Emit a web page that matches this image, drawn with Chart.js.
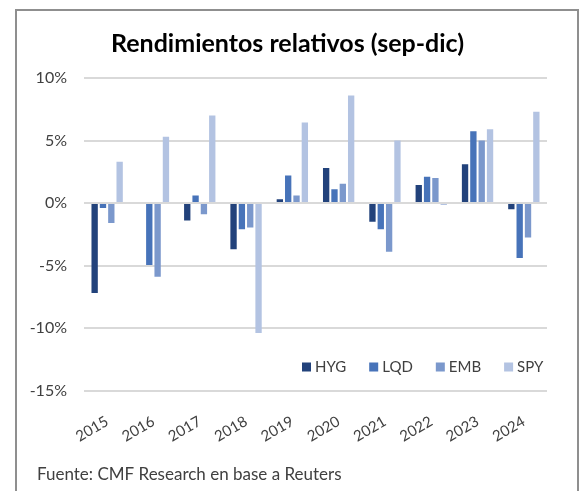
<!DOCTYPE html>
<html><head><meta charset="utf-8">
<script src="https://cdn.jsdelivr.net/npm/chart.js@4.4.1/dist/chart.umd.min.js"></script>
<style>
html,body{margin:0;padding:0;background:#fff;overflow:hidden}
#wrap{position:relative;width:581px;height:491px}
#frame{position:absolute;left:15px;top:9px;width:564px;height:600px;border:2px solid #8f8f8f;box-sizing:border-box;pointer-events:none}
</style></head><body>
<div id="wrap"><canvas id="c" width="581" height="491"></canvas><div id="frame"></div></div>
<script>
const categories = ['2015','2016','2017','2018','2019','2020','2021','2022','2023','2024'];
const seriesNames = ['HYG','LQD','EMB','SPY'];
const hyg = [-7.2, 0, -1.4, -3.7, 0.3, 2.8, -1.5, 1.45, 3.1, -0.5];
const lqd = [-0.4, -4.95, 0.6, -2.1, 2.2, 1.1, -2.1, 2.1, 5.75, -4.4];
const emb = [-1.6, -5.9, -0.9, -1.95, 0.6, 1.55, -3.9, 2.0, 5.0, -2.75];
const spy = [3.3, 5.3, 7.0, -10.4, 6.45, 8.6, 5.0, -0.15, 5.9, 7.3];
const yTicks = [-15, -10, -5, 0, 5, 10];
const colors = ['#22427b', '#4773b9', '#7b98cc', '#b3c3e2'];
const titleText = 'Rendimientos relativos (sep-dic)';
const sourceText = 'Fuente: CMF Research en base a Reuters';

const FONT = 'Lato, "Open Sans", sans-serif';

const insideLegend = {
  id: 'insideLegend',
  afterDraw(chart, args, opts) {
    const ctx = chart.ctx;
    ctx.save();
    ctx.font = opts.fontSize + 'px ' + FONT;
    ctx.textBaseline = 'middle';
    ctx.textAlign = 'left';
    let x = opts.x;
    chart.data.datasets.forEach(ds => {
      ctx.fillStyle = ds.backgroundColor;
      ctx.fillRect(x, opts.y - opts.box / 2, opts.box, opts.box);
      x += opts.box + opts.gap;
      ctx.fillStyle = opts.color;
      ctx.fillText(ds.label, x, opts.y);
      x += ctx.measureText(ds.label).width + opts.spacing;
    });
    ctx.restore();
  }
};

const sourceNote = {
  id: 'sourceNote',
  afterDraw(chart, args, opts) {
    const ctx = chart.ctx;
    ctx.save();
    ctx.font = opts.fontSize + 'px ' + FONT;
    ctx.fillStyle = opts.color;
    ctx.textBaseline = 'middle';
    ctx.textAlign = 'left';
    ctx.fillText(opts.text, opts.x, opts.y);
    ctx.restore();
  }
};

const seriesData = [hyg, lqd, emb, spy];
new Chart(document.getElementById('c'), {
  type: 'bar',
  data: {
    labels: categories,
    datasets: seriesNames.map((n, i) => ({
      label: n,
      data: seriesData[i],
      backgroundColor: colors[i],
      borderWidth: 0,
      categoryPercentage: 0.72,
      barPercentage: 0.76
    }))
  },
  options: {
    responsive: false,
    animation: false,
    devicePixelRatio: 1,
    layout: { padding: { left: 28, right: 34, top: 0, bottom: 35 } },
    plugins: {
      legend: { display: false },
      tooltip: { enabled: false },
      title: {
        display: true,
        text: titleText,
        color: '#000',
        font: { family: FONT, size: 25, weight: 'bold' },
        padding: { top: 29, bottom: 19 }
      },
      insideLegend: { x: 302, y: 367, box: 9, gap: 4, spacing: 23, fontSize: 15, color: '#404040' },
      sourceNote: { text: sourceText, x: 37, y: 475, fontSize: 17, color: '#404040' }
    },
    scales: {
      x: {
        grid: { display: false },
        border: { display: false },
        ticks: {
          autoSkip: false, minRotation: 30, maxRotation: 30,
          color: '#404040', font: { family: FONT, size: 15 }, padding: 14
        },
        afterFit(s) { s.height = 65.5; }
      },
      y: {
        min: yTicks[0], max: yTicks[yTicks.length - 1],
        grid: { color: '#d9d9d9', lineWidth: 2, drawTicks: false },
        border: { display: false },
        ticks: {
          stepSize: 5, padding: 17, color: '#404040',
          font: { family: FONT, size: 16 },
          callback: v => v + '%'
        },
        afterBuildTicks(s) { s.ticks = yTicks.map(v => ({ value: v })); },
        afterFit(s) { s.width = 56; }
      }
    }
  },
  plugins: [insideLegend, sourceNote]
});
</script>
</body></html>
